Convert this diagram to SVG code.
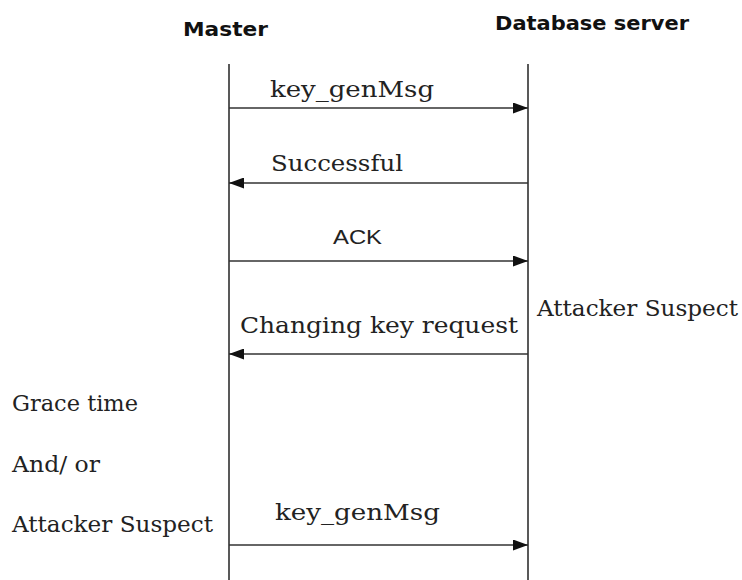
<svg xmlns="http://www.w3.org/2000/svg" width="742" height="580" viewBox="0 0 742 580">
  <defs>
    <marker id="arrow" viewBox="0 0 15 11" refX="15" refY="5.5" markerWidth="15" markerHeight="11" markerUnits="userSpaceOnUse" orient="auto">
      <path d="M0,0 L15,5.5 L0,11 Z" fill="#111"/>
    </marker>
  </defs>
  <style>
    .head { font-family: "DejaVu Sans", Verdana, sans-serif; font-weight: bold; font-size: 19px; fill: #111; }
    .lbl { font-family: "DejaVu Serif", "Liberation Serif", serif; font-size: 22px; fill: #222; }
    .sans { font-family: "Liberation Sans", Arial, sans-serif; font-size: 20px; fill: #222; }
    .life { stroke: #222; stroke-width: 1.5; fill: none; }
    .msg { stroke: #333; stroke-width: 1.4; fill: none; marker-end: url(#arrow); }
  </style>
  <rect width="742" height="580" fill="#fff"/>

  <!-- participants with their lifelines -->
  <g id="master">
    <text class="head" x="183" y="36" textLength="85" lengthAdjust="spacingAndGlyphs">Master</text>
    <line class="life" x1="229" y1="64" x2="229" y2="580"/>
  </g>
  <g id="database-server">
    <text class="head" x="495" y="30" textLength="194" lengthAdjust="spacingAndGlyphs">Database server</text>
    <line class="life" x1="528" y1="64" x2="528" y2="580"/>
  </g>

  <!-- side notes -->
  <g id="note-server-suspect">
    <text class="lbl" x="537" y="316" textLength="201" lengthAdjust="spacingAndGlyphs">Attacker Suspect</text>
  </g>
  <g id="note-grace">
    <text class="lbl" x="12" y="411" textLength="126" lengthAdjust="spacingAndGlyphs">Grace time</text>
    <text class="lbl" x="12" y="472" textLength="88" lengthAdjust="spacingAndGlyphs">And/ or</text>
    <text class="lbl" x="12" y="532" textLength="201" lengthAdjust="spacingAndGlyphs">Attacker Suspect</text>
  </g>

  <!-- messages -->
  <g id="connectors">
    <line class="msg" x1="229" y1="108" x2="528" y2="108"/>
    <text class="lbl" x="270" y="97" textLength="164" lengthAdjust="spacingAndGlyphs">key_genMsg</text>

    <line class="msg" x1="528" y1="183" x2="229" y2="183"/>
    <text class="lbl" x="271" y="171" textLength="132" lengthAdjust="spacingAndGlyphs">Successful</text>

    <line class="msg" x1="229" y1="261" x2="528" y2="261"/>
    <text class="sans" x="333" y="244" textLength="49" lengthAdjust="spacingAndGlyphs">ACK</text>

    <line class="msg" x1="528" y1="354" x2="229" y2="354"/>
    <text class="lbl" x="240" y="333" textLength="278" lengthAdjust="spacingAndGlyphs">Changing key request</text>

    <line class="msg" x1="229" y1="545" x2="528" y2="545"/>
    <text class="lbl" x="275" y="520" textLength="165" lengthAdjust="spacingAndGlyphs">key_genMsg</text>
  </g>
</svg>
